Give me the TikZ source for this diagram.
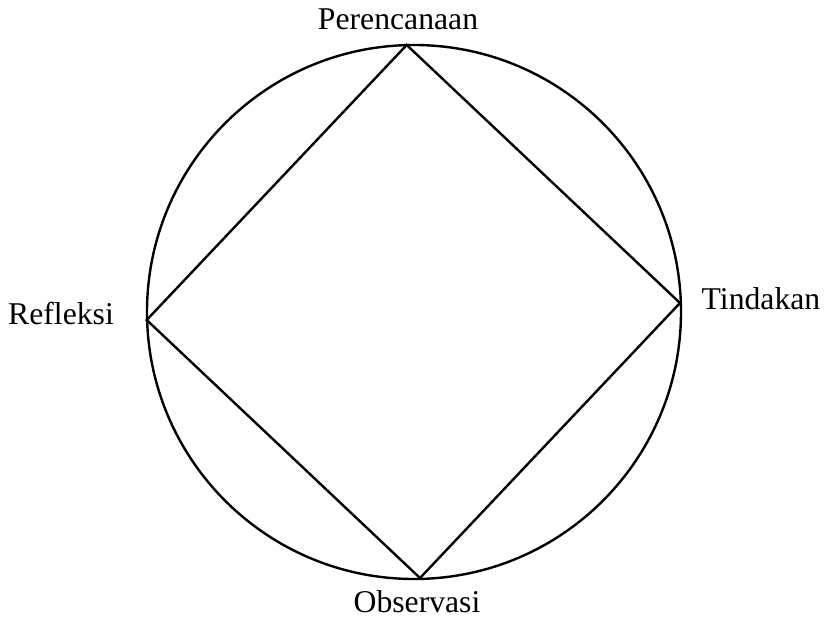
\documentclass[tikz,border=0pt]{standalone}
\usepackage{fontspec}
\setmainfont{Liberation Serif}
\begin{document}
\begin{tikzpicture}[x=1pt,y=1pt,
  line/.style={line width=2.4pt, line join=miter},
  lbl/.style={inner sep=0pt, anchor=base, font=\fontsize{31.7}{36}\selectfont}]
\useasboundingbox (0,0) rectangle (826,619);
\node[line, draw, circle, minimum size=534pt, inner sep=0pt] (circ) at (414,307) {};
\coordinate (top) at (406.7,574);
\coordinate (right) at (680,316);
\coordinate (bottom) at (420,41);
\coordinate (left) at (146.7,299);
\draw[line] (top) -- (right) -- (bottom) -- (left) -- cycle;
\node[lbl] (plan) at (398,589) {Perencanaan};
\node[lbl] (act) at (761,309) {Tindakan};
\node[lbl] (obs) at (417,6.5) {Observasi};
\node[lbl] (ref) at (61,295) {Refleksi};
\end{tikzpicture}
\end{document}
